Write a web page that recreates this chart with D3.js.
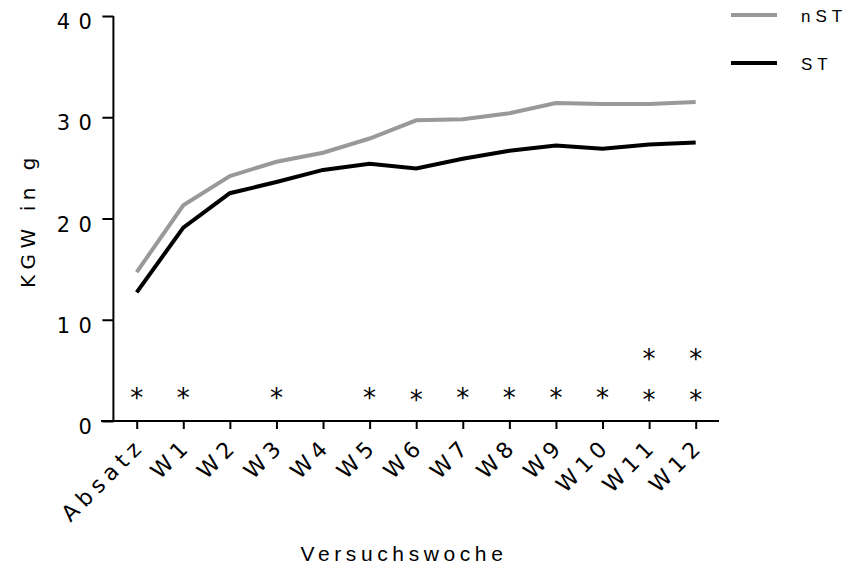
<!DOCTYPE html>
<html><head><meta charset="utf-8">
<script src="https://cdn.jsdelivr.net/npm/d3@7"></script>
<style>body{margin:0;background:#fff}svg{display:block}</style>
</head><body>
<svg id="chart" width="850" height="567"></svg>
<script>
const categories = ["Absatz","W1","W2","W3","W4","W5","W6","W7","W8","W9","W10","W11","W12"];
const nST = [14.7,21.3,24.2,25.6,26.5,27.9,29.7,29.8,30.4,31.4,31.3,31.3,31.5];
const ST  = [12.7,19.1,22.5,23.6,24.8,25.4,24.95,25.9,26.7,27.2,26.9,27.3,27.5];
const yTicks = [0,10,20,30,40];
// significance marks: category and y-value where "*" is shown
const starCats = ["Absatz","W1","W3","W5","W6","W7","W8","W9","W10","W11","W12","W11","W12"];
const starVals = [2.7,2.7,2.7,2.7,2.5,2.7,2.7,2.7,2.7,2.5,2.5,6.5,6.5];
const seriesNames = ["nST","ST"];
const seriesColors = ["#999999","#000000"];

const svg = d3.select("#chart");
const x = d3.scalePoint().domain(categories).range([136.7, 695.7]);
const y = d3.scaleLinear().domain([0,40]).range([421,16]);
const step = x.step();

// Y axis
const yAxis = svg.append("g").attr("transform","translate(113.4,0)")
  .call(d3.axisLeft(y).tickValues(yTicks).tickSize(11).tickSizeOuter(0));
yAxis.select(".domain").attr("stroke-width",2).attr("d", `M0,${y(40)}V${y(0)}`);
yAxis.selectAll(".tick line").attr("stroke-width",2);
yAxis.selectAll(".tick text").attr("font-family","DejaVu Sans").attr("font-size",21)
  .attr("letter-spacing","8.5px").attr("x",-13).attr("dy","0.6em").attr("fill","#000");

// X axis
const xAxis = svg.append("g").attr("transform",`translate(0,${y(0)})`)
  .call(d3.axisBottom(x).tickSize(8).tickSizeOuter(0));
xAxis.select(".domain").attr("stroke-width",2).attr("d", `M${113.4-12.4},0H${x(categories[categories.length-1])+step/2}`);
xAxis.selectAll(".tick line").attr("stroke-width",2);
xAxis.selectAll(".tick text").attr("font-family","DejaVu Sans").attr("font-size",22)
  .attr("letter-spacing","5.5px").attr("fill","#000")
  .attr("text-anchor","end").attr("y",0).attr("dy",0)
  .attr("transform","translate(9,26) rotate(-45)");

// lines
const line = d3.line().x((d,i)=>x(categories[i])).y(d=>y(d));
[nST, ST].forEach((s,k)=>{
  svg.append("path").datum(s).attr("d",line).attr("fill","none")
    .attr("stroke",seriesColors[k]).attr("stroke-width",4).attr("stroke-linejoin","miter");
});

// stars
svg.append("g").selectAll("text").data(starVals).join("text")
  .attr("x",(d,i)=>x(starCats[i])).attr("y",d=>y(d)+13)
  .attr("text-anchor","middle").attr("font-family","DejaVu Sans").attr("font-size",26)
  .text("*");

// axis titles
svg.append("text").attr("transform","translate(35,220) rotate(-90)")
  .attr("text-anchor","middle").attr("font-family","DejaVu Sans").attr("font-size",20)
  .attr("letter-spacing","5.5px").text("KGW in g");
svg.append("text").attr("x",404).attr("y",561).attr("text-anchor","middle")
  .attr("font-family","Liberation Sans").attr("font-size",21).attr("letter-spacing","4.6px")
  .text("Versuchswoche");

// legend
const lg = svg.append("g");
seriesNames.forEach((n,k)=>{
  const yy = 15 + k*48;
  lg.append("line").attr("x1",731).attr("x2",777).attr("y1",yy).attr("y2",yy)
    .attr("stroke",seriesColors[k]).attr("stroke-width",4);
  lg.append("text").attr("x",801).attr("y",yy+7).attr("font-family","Liberation Sans")
    .attr("font-size",17).attr("letter-spacing","5px").text(n);
});
</script>
</body></html>
